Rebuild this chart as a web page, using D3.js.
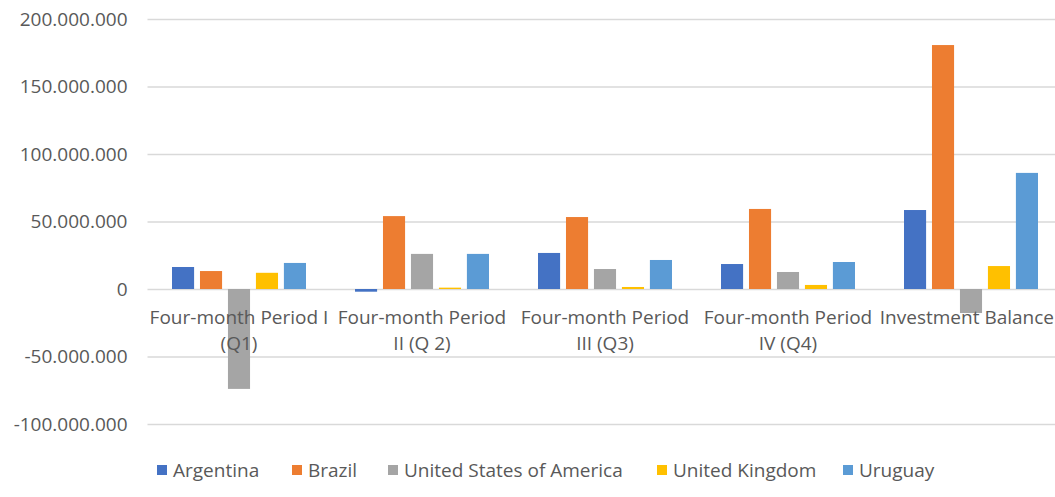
<!DOCTYPE html>
<html>
<head>
<meta charset="utf-8">
<script src="https://cdn.jsdelivr.net/npm/d3@7"></script>
<style>
  html, body { margin: 0; padding: 0; background: #fff; }
  svg { display: block; }
  text { font-family: "Open Sans", sans-serif; fill: #595959; }
</style>
</head>
<body>
<svg id="chart" width="1055" height="497"></svg>
<script>
const categories = [
  ["Four-month Period I", "(Q1)"],
  ["Four-month Period", "II (Q 2)"],
  ["Four-month Period", "III (Q3)"],
  ["Four-month Period", "IV (Q4)"],
  ["Investment Balance"]
];
const seriesNames = ["Argentina", "Brazil", "United States of America", "United Kingdom", "Uruguay"];
const seriesColors = ["#4472C4", "#ED7D31", "#A5A5A5", "#FFC000", "#5B9BD5"];
const argentina = [16300000, -2000000, 26700000, 18500000, 58500000];
const brazil = [13300000, 54000000, 53300000, 59300000, 180700000];
const usa = [-74000000, 26000000, 14800000, 12600000, -17800000];
const uk = [12000000, 1000000, 1500000, 3000000, 17000000];
const uruguay = [19300000, 26000000, 21500000, 20000000, 86000000];
const yTicks = [-100000000, -50000000, 0, 50000000, 100000000, 150000000, 200000000];

const seriesValues = [argentina, brazil, usa, uk, uruguay];
const svg = d3.select("#chart");
const FS = 19;
const W = 1055;

const x0 = d3.scaleBand().domain(d3.range(categories.length)).range([147.5, 1062.5]).paddingInner(0).paddingOuter(0);
const y = d3.scaleLinear().domain([-100000000, 200000000]).range([424, 19]);

const bw = x0.bandwidth();
const x1 = d3.scaleBand().domain(d3.range(seriesNames.length)).range([24.5, bw - 24.5]).paddingInner(0.21).paddingOuter(0);

const fmt = v => (v < 0 ? "-" : "") + d3.format(",")(Math.abs(v)).replace(/,/g, ".");

// gridlines + tick labels
const yAxis = d3.axisLeft(y).tickValues(yTicks).tickSize(-(1062.5 - 147.5)).tickFormat(fmt).tickPadding(20);
const gy = svg.append("g").attr("transform", "translate(147.5,0)").call(yAxis);
gy.select(".domain").remove();
gy.selectAll(".tick line").attr("stroke", "#D9D9D9").attr("stroke-width", 1.3);
gy.selectAll(".tick text").attr("font-size", FS).attr("fill", "#595959").attr("font-family", "Open Sans, sans-serif");

// bars
const groups = svg.append("g").selectAll("g").data(categories).join("g")
  .attr("transform", (d, i) => `translate(${x0(i)},0)`);
groups.selectAll("rect").data((d, i) => seriesValues.map((s, j) => ({ v: s[i], j })))
  .join("rect")
  .attr("x", d => x1(d.j))
  .attr("width", x1.bandwidth())
  .attr("y", d => y(Math.max(0, d.v)))
  .attr("height", d => Math.abs(y(d.v) - y(0)))
  .attr("fill", d => seriesColors[d.j]);

// category labels
const lab = svg.append("g").selectAll("text").data(categories.map((c, i) => ({ c, i }))).join("text")
  .attr("text-anchor", "middle")
  .attr("font-size", FS);
lab.selectAll("tspan").data(d => d.c.map(t => ({ t, i: d.i }))).join("tspan")
  .attr("x", d => x0(d.i) + bw / 2)
  .attr("y", (d, k) => 324 + k * 26)
  .text(d => d.t)
  .each(function (d) {
    const len = this.getComputedTextLength();
    const cx = x0(d.i) + bw / 2;
    if (cx + len / 2 > W - 1) d3.select(this).attr("x", W - 1 - len / 2);
  });

// legend
const legendX = [157, 292, 388, 657, 843];
const leg = svg.append("g").selectAll("g").data(seriesNames).join("g")
  .attr("transform", (d, i) => `translate(${legendX[i]},470)`);
leg.append("rect").attr("x", 0).attr("y", -5).attr("width", 10).attr("height", 10).attr("fill", (d, i) => seriesColors[i]);
leg.append("text").attr("x", 16).attr("y", 0).attr("dy", "0.35em").attr("font-size", FS).text(d => d);
</script>
</body>
</html>
